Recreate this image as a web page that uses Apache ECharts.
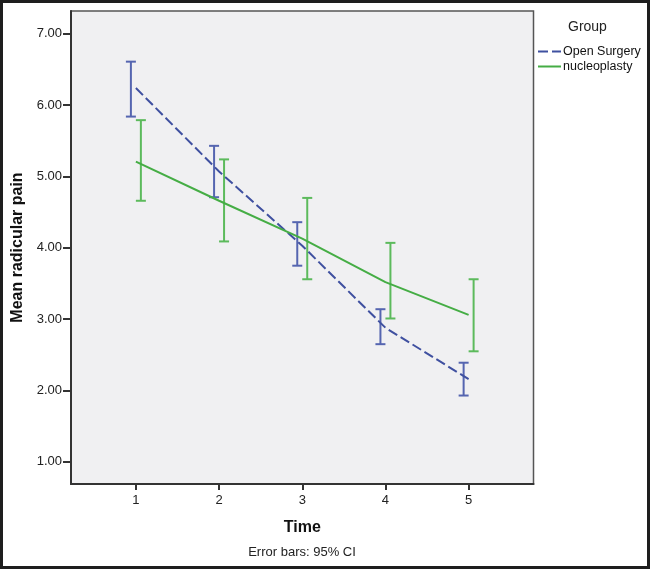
<!DOCTYPE html>
<html>
<head>
<meta charset="utf-8">
<script src="https://cdn.jsdelivr.net/npm/echarts@6/dist/echarts.min.js"></script>
<style>
html,body{margin:0;padding:0;background:#fff;}
#chart{width:650px;height:569px;}
</style>
</head>
<body>
<div id="chart"></div>
<script>
const times = [1, 2, 3, 4, 5];
const yTicks = [1, 2, 3, 4, 5, 6, 7];
const groups = ['Open Surgery', 'nucleoplasty'];
const openMean = [6.24, 5.07, 4.03, 2.88, 2.16];
const openLow  = [5.84, 4.71, 3.75, 2.65, 1.93];
const openHigh = [6.61, 5.43, 4.36, 3.14, 2.39];
const nucMean  = [5.21, 4.66, 4.13, 3.52, 3.06];
const nucLow   = [4.66, 4.09, 3.56, 3.01, 2.55];
const nucHigh  = [5.79, 5.24, 4.70, 4.07, 3.56];

const blueLine = '#3f50a0', blueBar = '#5565b0';
const greenLine = '#45ad45', greenBar = '#5cba5c';

function errSeries(low, high, offset, color) {
  return {
    type: 'custom',
    silent: true,
    z: 3,
    data: times.map((t, i) => [t, low[i], high[i]]),
    renderItem: function (params, api) {
      const x = api.value(0) + offset;
      const p1 = api.coord([x, api.value(1)]);
      const p2 = api.coord([x, api.value(2)]);
      const cw = 5;
      const st = { stroke: color, lineWidth: 2 };
      return {
        type: 'group',
        children: [
          { type: 'line', shape: { x1: p1[0], y1: p1[1], x2: p2[0], y2: p2[1] }, style: st },
          { type: 'line', shape: { x1: p1[0] - cw, y1: p1[1], x2: p1[0] + cw, y2: p1[1] }, style: st },
          { type: 'line', shape: { x1: p2[0] - cw, y1: p2[1], x2: p2[0] + cw, y2: p2[1] }, style: st }
        ]
      };
    }
  };
}

const chart = echarts.init(document.getElementById('chart'), null, { renderer: 'canvas' });
chart.setOption({
  animation: false,
  backgroundColor: '#ffffff',
  textStyle: { fontFamily: 'Liberation Sans, Arial, sans-serif' },
  grid: {
    left: 71, top: 11, right: 116.5, bottom: 85,
    show: true, backgroundColor: '#f0f0f2', borderColor: '#555', borderWidth: 1.5
  },
  legend: {
    orient: 'vertical',
    left: 537, top: 45,
    padding: 0,
    itemWidth: 23, itemHeight: 14, itemGap: 2,
    itemStyle: { opacity: 0 },
    textStyle: { fontSize: 12.5, color: '#111', padding: [0, 0, 0, -3] },
    data: groups
  },
  xAxis: {
    type: 'value', min: 0.22, max: 5.78,
    name: 'Time', nameLocation: 'middle', nameGap: 36,
    nameTextStyle: { fontSize: 16, fontWeight: 'bold', color: '#111' },
    axisLine: { show: true, onZero: false, lineStyle: { color: '#333', width: 2 } },
    axisTick: { show: true, length: 6, lineStyle: { color: '#333', width: 2 }, customValues: times },
    axisLabel: { margin: 10, fontSize: 13, color: '#222', customValues: times, formatter: v => String(v) },
    splitLine: { show: false }
  },
  yAxis: {
    type: 'value', min: 0.69, max: 7.32,
    name: 'Mean radicular pain', nameLocation: 'middle', nameGap: 44,
    nameTextStyle: { fontSize: 16, fontWeight: 'bold', color: '#111' },
    axisLine: { show: true, onZero: false, lineStyle: { color: '#333', width: 2 } },
    axisTick: { show: true, length: 8, lineStyle: { color: '#333', width: 2 }, customValues: yTicks },
    axisLabel: { margin: 9, fontSize: 13, color: '#222', customValues: yTicks, formatter: v => v.toFixed(2) },
    splitLine: { show: false }
  },
  graphic: [
    { type: 'text', left: 568, top: 20, style: { text: 'Group', fontSize: 14, fill: '#222', fontFamily: 'Liberation Sans, Arial, sans-serif' } },
    { type: 'text', x: 302, y: 552, style: { text: 'Error bars: 95% CI', fontSize: 13, fill: '#222', align: 'center', verticalAlign: 'middle', fontFamily: 'Liberation Sans, Arial, sans-serif' } },
    { type: 'rect', shape: { x: 1.5, y: 1.5, width: 647, height: 566 }, style: { fill: 'none', stroke: '#1e1e1e', lineWidth: 3 }, silent: true, z: 100 }
  ],
  series: [
    {
      name: groups[0], type: 'line', symbol: 'none', z: 4,
      data: times.map((t, i) => [t, openMean[i]]),
      lineStyle: { color: blueLine, width: 2, type: [10, 4] },
      itemStyle: { color: blueLine }
    },
    {
      name: groups[1], type: 'line', symbol: 'none', z: 4,
      data: times.map((t, i) => [t, nucMean[i]]),
      lineStyle: { color: greenLine, width: 2 },
      itemStyle: { color: greenLine }
    },
    errSeries(openLow, openHigh, -0.06, blueBar),
    errSeries(nucLow, nucHigh, 0.06, greenBar)
  ]
});
</script>
</body>
</html>
